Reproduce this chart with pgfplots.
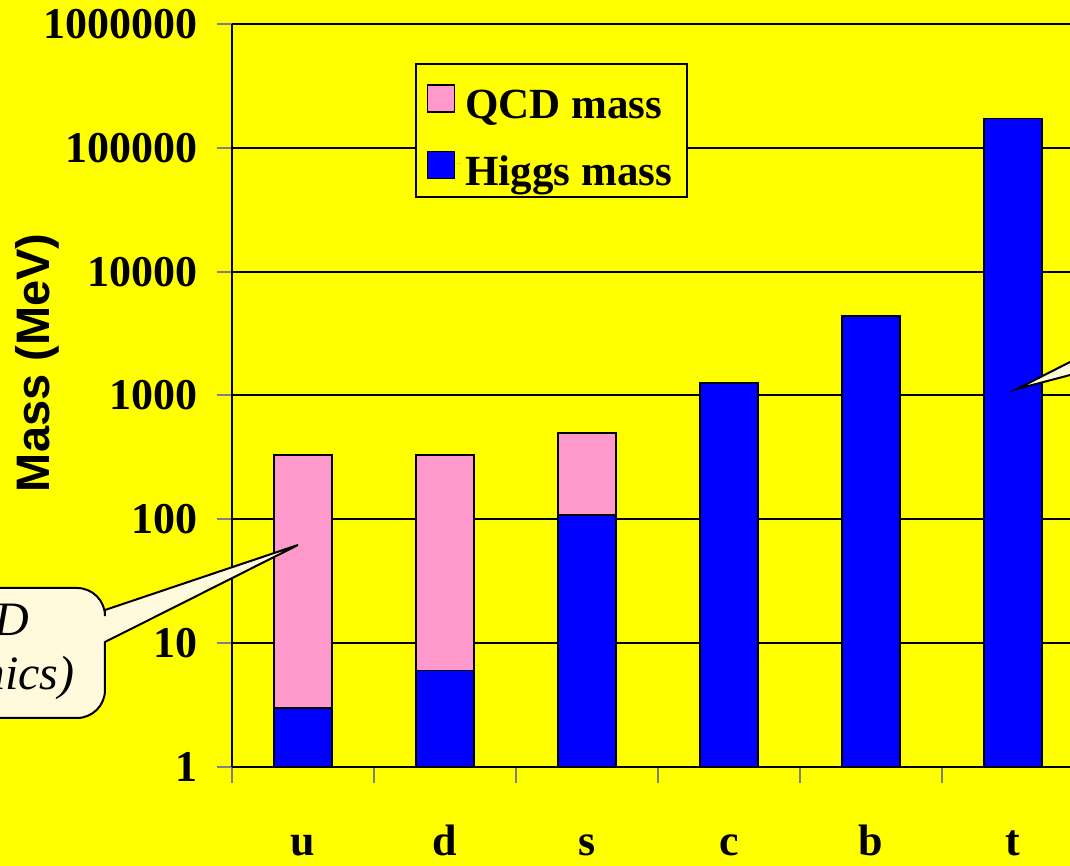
\documentclass[border=0pt]{standalone}
\usepackage{fontspec}
\setmainfont{Liberation Serif}
\newfontfamily\labelfont{Liberation Sans}
\usepackage{pgfplots}
\pgfplotsset{compat=1.18}

\definecolor{slideyellow}{RGB}{255,255,0}
\definecolor{qcdpink}{RGB}{255,153,204}
\definecolor{higgsblue}{RGB}{0,0,255}
\definecolor{calloutfill}{RGB}{255,250,220}

\begin{document}
\begin{tikzpicture}
  % page = the cropped slide region, 1 px = 0.5pt, origin at the axis corner
  \useasboundingbox (-116pt,-49.5pt) rectangle (419pt,383.5pt);
  \clip (-116pt,-49.5pt) rectangle (419pt,383.5pt);
  \fill[slideyellow] (-116pt,-49.5pt) rectangle (419pt,383.5pt);

  \begin{axis}[
      at={(0,0)}, anchor=south west,
      scale only axis,
      width=426pt, height=371.5pt,
      ymode=log,
      ymin=1, ymax=1000000,
      xmin=-0.5, xmax=5.5,
      axis x line*=bottom, axis y line*=left,
      axis line style={line width=1pt},
      ybar, bar width=29pt,
      ytick={1,10,100,1000,10000,100000,1000000},
      yticklabels={1,10,100,1000,10000,100000,1000000},
      yminorticks=false,
      xtick={0,1,2,3,4,5},
      xticklabels={u,d,s,c,b,t},
      major x tick style={draw=none},
      minor xtick={-0.5,0.5,1.5,2.5,3.5,4.5,5.5},
      minor x tick style={line width=0.6pt},
      tick align=outside,
      major tick length=7.5pt, minor tick length=8pt,
      major y tick style={line width=1pt},
      ymajorgrids,
      major grid style={line width=1pt, black},
      ticklabel style={font=\fontsize{22}{26}\selectfont\bfseries},
      /pgf/number format/assume math mode=true,
      yticklabel style={anchor=east, xshift=-6pt},
      xticklabel style={anchor=base, yshift=-37pt},
      ylabel={Mass (MeV)},
      ylabel style={font=\labelfont\fontsize{23.5}{26}\selectfont\bfseries,
        at={(axis description cs:-0.229,0.544)}, anchor=center},
      legend style={at={(axis description cs:0.2148,0.9475)}, anchor=north west,
        fill=slideyellow, draw=black, line width=0.8pt,
        font=\fontsize{21.5}{25}\selectfont\bfseries,
        nodes={text height=21.8pt, text depth=0pt},
        inner xsep=5.5pt, inner ysep=3.7pt, row sep=7.5pt},
      legend cell align=left,
      legend image code/.code={
        \draw[#1, line width=0.6pt] (0pt,-7.5pt) rectangle (13.5pt,6pt);
        \path[draw=none] (0pt,0pt) -- (17pt,0pt);},
    ]
    % total quark mass (pink), overlaid by the Higgs part (blue)
    \addplot[fill=qcdpink, draw=black, line width=0.8pt, bar shift=0pt]
      coordinates {(0,330) (1,330) (2,500)};
    \addlegendentry{QCD mass}
    \addplot[fill=higgsblue, draw=black, line width=0.8pt, bar shift=0pt]
      coordinates {(0,3) (1,6) (2,108) (3,1260) (4,4400) (5,172000)};
    \addlegendentry{Higgs mass}
  \end{axis}

  % cut-off speech bubbles of the slide
  \filldraw[fill=calloutfill, draw=black, line width=1pt]
    (-63.5pt,78.5pt) [rounded corners=14pt] -- (-63.5pt,89.5pt) -- (-160pt,89.5pt)
    -- (-160pt,24.5pt) -- (-63.5pt,24.5pt) [sharp corners] -- (-63.5pt,62.5pt)
    -- (33pt,111pt) -- cycle;
  \node[anchor=base east, inner sep=0pt, font=\fontsize{24}{28}\selectfont\itshape]
    at (-101pt,65.5pt) {QCD};
  \node[anchor=base east, inner sep=0pt, font=\fontsize{24}{28}\selectfont\itshape]
    at (-78.5pt,38.5pt) {(dynamics)};
  \filldraw[fill=calloutfill, draw=black, line width=1pt]
    (392.5pt,189pt) -- (440pt,213.2pt) -- (440pt,201.5pt) -- cycle;
\end{tikzpicture}
\end{document}
